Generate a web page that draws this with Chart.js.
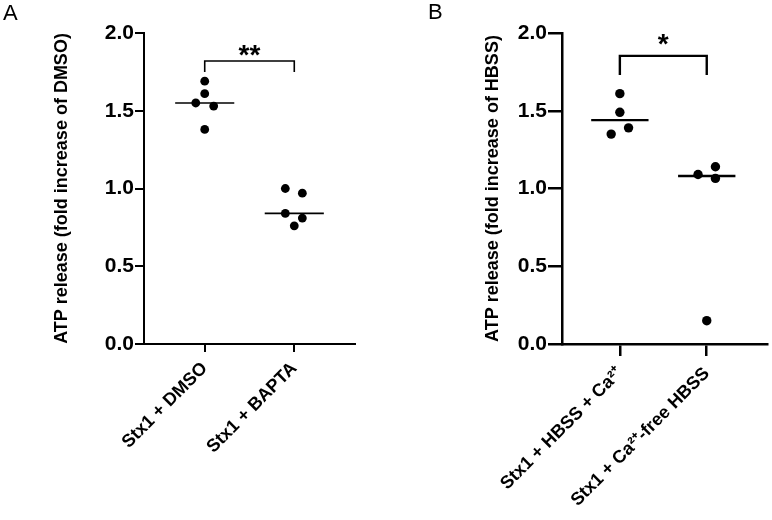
<!DOCTYPE html>
<html><head><meta charset="utf-8">
<script src="https://cdn.jsdelivr.net/npm/chart.js@4.4.1/dist/chart.umd.min.js"></script>
<style>
html,body{margin:0;padding:0;background:#fff;}
body{width:772px;height:520px;position:relative;overflow:hidden;font-family:"Liberation Sans",Arial,sans-serif;}
.panel{position:absolute;top:0;width:386px;height:520px;}
#pa{left:0} #pb{left:386px}
.lbl{position:absolute;font-size:22px;line-height:22px;color:#000;}
</style></head><body>
<div class="panel" id="pa"><canvas id="ca" width="386" height="520"></canvas></div>
<div class="panel" id="pb"><canvas id="cb" width="386" height="520"></canvas></div>
<div class="lbl" style="left:3px;top:2px">A</div>
<div class="lbl" style="left:428px;top:1px">B</div>
<script>
// ---- Panel A data ----
const categoriesA = ['Stx1 + DMSO', 'Stx1 + BAPTA'];
const dmsoValues  = [1.69, 1.61, 1.55, 1.53, 1.38];
const dmsoJitter  = [0, 0, -0.1, 0.1, 0];
const baptaValues = [1.00, 0.97, 0.84, 0.81, 0.76];
const baptaJitter = [-0.1, 0.09, -0.1, 0.09, 0];
const mediansA    = [1.55, 0.84];
const signifA     = '**';
const yTitleA     = 'ATP release (fold increase of DMSO)';

// ---- Panel B data ----
const categoriesB  = ['Stx1 + HBSS + Ca²⁺', 'Stx1 + Ca²⁺-free HBSS'];
const hbssCaValues = [1.61, 1.49, 1.39, 1.35];
const hbssCaJitter = [0, 0, 0.1, -0.1];
const caFreeValues = [1.14, 1.09, 1.065, 0.15];
const caFreeJitter = [0.1, -0.1, 0.1, 0];
const mediansB     = [1.44, 1.08];
const signifB      = '*';
const yTitleB      = 'ATP release (fold increase of HBSS)';

// ---- shared axis ticks ----
const yTicks = [0, 0.5, 1.0, 1.5, 2.0];

Chart.defaults.color = '#000';
Chart.defaults.font.family = '"Liberation Sans", Arial, sans-serif';

const starPlugin = {
  id: 'stars',
  afterDatasetsDraw(chart, args, opts) {
    const {ctx, scales: {x, y}} = chart;
    ctx.save();
    ctx.font = 'bold ' + opts.size + 'px "Liberation Sans", Arial, sans-serif';
    ctx.fillStyle = '#000';
    ctx.textAlign = 'center';
    ctx.textBaseline = 'alphabetic';
    ctx.fillText(opts.text, x.getPixelForValue(0.5), y.getPixelForValue(opts.top) - opts.gap);
    ctx.restore();
  }
};

function pts(cat, values, jitter) {
  return values.map((v, i) => ({x: cat + jitter[i], y: v}));
}

function build(canvasId, s) {
  const datasets = [];
  s.groups.forEach((g, gi) => {
    datasets.push({
      data: pts(gi, g.values, g.jitter),
      pointRadius: s.dotR, pointHoverRadius: s.dotR,
      backgroundColor: '#000', borderColor: '#000', borderWidth: 0,
      showLine: false
    });
    datasets.push({
      data: [{x: gi - 0.33, y: s.medians[gi]}, {x: gi + 0.33, y: s.medians[gi]}],
      showLine: true, pointRadius: 0, borderColor: '#000', borderWidth: s.medW
    });
  });
  datasets.push({
    data: [{x: 0, y: s.bracket.leg}, {x: 0, y: s.bracket.top}, {x: 1, y: s.bracket.top}, {x: 1, y: s.bracket.leg}],
    showLine: true, pointRadius: 0, borderColor: '#000', borderWidth: s.brW,
    borderCapStyle: 'square', borderJoinStyle: 'miter'
  });
  return new Chart(document.getElementById(canvasId), {
    type: 'scatter',
    data: {datasets},
    plugins: [starPlugin],
    options: {
      responsive: false, animation: false, devicePixelRatio: 1,
      events: [],
      layout: {padding: {left: s.padLeft, top: 33, right: s.padRight, bottom: 0}},
      plugins: {legend: {display: false}, tooltip: {enabled: false},
        stars: {text: s.signif, size: s.starSize, top: s.bracket.top, gap: s.starGap}},
      scales: {
        x: {
          type: 'linear', min: s.xmin, max: s.xmax,
          afterBuildTicks: sc => { sc.ticks = s.categories.map((c, i) => ({value: i})); },
          afterFit: sc => { sc.height = 176; },
          grid: {drawOnChartArea: false, drawTicks: true, tickLength: s.xTickLen, color: '#000', lineWidth: s.axW},
          border: {display: true, color: '#000', width: s.axW},
          ticks: {
            autoSkip: false, minRotation: 45, maxRotation: 45, padding: s.xPad,
            font: {size: 18, weight: 'bold'}, color: '#000',
            callback: (v, i) => s.categories[i]
          }
        },
        y: {
          min: 0, max: 2,
          afterBuildTicks: sc => { sc.ticks = yTicks.map(v => ({value: v})); },
          afterFit: sc => { sc.width = s.yWidth; },
          grid: {drawOnChartArea: false, drawTicks: true, tickLength: s.yTickLen, color: '#000', lineWidth: s.axW},
          border: {display: true, color: '#000', width: s.axW},
          ticks: {font: {size: 21, weight: 'bold'}, color: '#000', padding: 1,
            callback: v => Number(v).toFixed(1)},
          title: {display: true, text: s.yTitle, color: '#000',
            font: {size: s.titleSize, weight: 'bold', lineHeight: 1.2}, padding: {top: 0, bottom: 0}}
        }
      }
    }
  });
}

build('ca', {
  categories: categoriesA,
  groups: [{values: dmsoValues, jitter: dmsoJitter}, {values: baptaValues, jitter: baptaJitter}],
  medians: mediansA, signif: signifA, yTitle: yTitleA,
  bracket: {top: 1.82, leg: 1.755},
  dotR: 4.4, medW: 1.6, brW: 1.6, axW: 2,
  starSize: 28, starGap: -3,
  padLeft: 51, padRight: 31, yWidth: 93, titleSize: 18,
  xmin: -0.678, xmax: 1.678, xTickLen: 8, yTickLen: 9, xPad: 6
});

build('cb', {
  categories: categoriesB,
  groups: [{values: hbssCaValues, jitter: hbssCaJitter}, {values: caFreeValues, jitter: caFreeJitter}],
  medians: mediansB, signif: signifB, yTitle: yTitleB,
  bracket: {top: 1.853, leg: 1.737},
  dotR: 4.7, medW: 2.4, brW: 2.4, axW: 2.5,
  starSize: 28, starGap: 3,
  padLeft: 96, padRight: 0, yWidth: 80, titleSize: 18,
  xmin: -0.666, xmax: 1.697, xTickLen: 12, yTickLen: 14, xPad: 7
});
</script>
</body></html>
